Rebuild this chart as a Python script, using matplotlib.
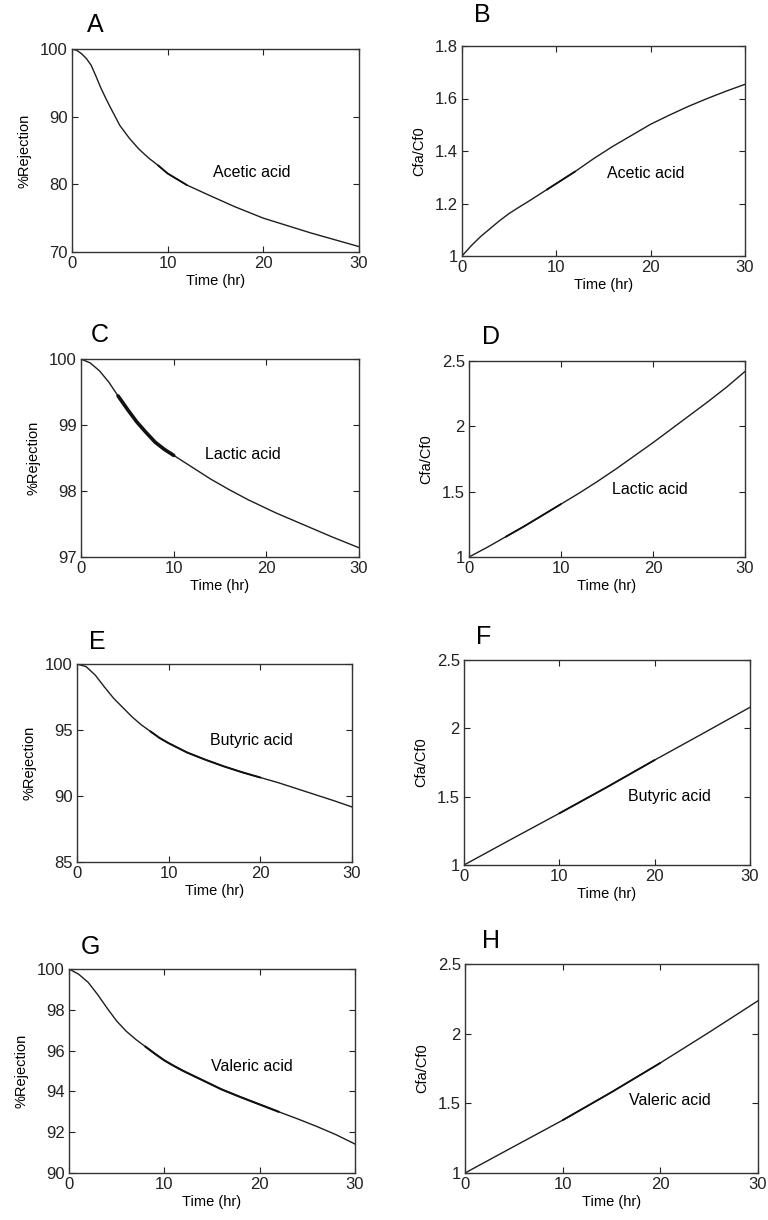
import matplotlib.pyplot as plt

plt.rcParams['font.family'] = ['Liberation Sans', 'DejaVu Sans']

W, H = 768, 1220

# time axis samples (hr) and values
t_a = [0, 0.5, 1, 1.5, 2, 2.5, 3, 3.5, 4, 5, 6, 7, 8, 9, 10, 12, 14, 17, 20, 22.5, 25, 27.5, 30]
rej_acetic = [100, 99.8, 99.3, 98.6, 97.6, 96.0, 94.3, 92.8, 91.4, 88.7, 86.8, 85.2, 83.9, 82.8,
              81.6, 79.9, 78.6, 76.7, 75.0, 73.9, 72.8, 71.8, 70.8]

t_b = [0, 1, 2, 3, 4, 5, 6, 7, 8, 9, 10, 12, 14, 16, 18, 20, 22, 24, 26, 28, 30]
cf_acetic = [1.0, 1.04, 1.075, 1.105, 1.135, 1.162, 1.185, 1.207, 1.23, 1.253, 1.276, 1.322,
             1.372, 1.418, 1.46, 1.502, 1.537, 1.57, 1.6, 1.628, 1.654]

t_c = [0, 1, 2, 3, 4, 5, 6, 7, 8, 9, 10, 11, 12, 14, 16, 18, 21, 24, 27, 30]
rej_lactic = [100, 99.94, 99.82, 99.65, 99.44, 99.24, 99.05, 98.89, 98.74, 98.63, 98.54, 98.45,
              98.36, 98.18, 98.02, 97.87, 97.67, 97.49, 97.31, 97.14]

t_d = [0, 2, 4, 6, 8, 10, 12, 14, 16, 18, 20, 22, 24, 26, 28, 30]
cf_lactic = [1.0, 1.075, 1.155, 1.235, 1.32, 1.405, 1.49, 1.58, 1.675, 1.775, 1.875,
             1.98, 2.085, 2.19, 2.30, 2.42]

t_e = [0, 1, 2, 3, 4, 5, 6, 7, 8, 9, 10, 11, 12, 14, 16, 18, 20, 22, 24, 26, 28, 30]
rej_butyric = [100, 99.8, 99.15, 98.25, 97.4, 96.7, 96.0, 95.4, 94.9, 94.4, 94.0, 93.65, 93.3,
               92.75, 92.25, 91.8, 91.4, 91.0, 90.55, 90.1, 89.65, 89.17]

t_f = [0, 5, 10, 15, 20, 25, 30]
cf_butyric = [1.0, 1.19, 1.378, 1.57, 1.768, 1.96, 2.154]

t_g = [0, 1, 2, 3, 4, 5, 6, 7, 8, 9, 10, 11, 12, 14, 16, 18, 20, 22, 24, 26, 28, 30]
rej_valeric = [100, 99.75, 99.35, 98.75, 98.08, 97.45, 96.95, 96.55, 96.2, 95.85, 95.52, 95.25,
               95.0, 94.55, 94.1, 93.72, 93.36, 93.0, 92.65, 92.28, 91.88, 91.42]

t_h = [0, 5, 10, 15, 20, 25, 30]
cf_valeric = [1.0, 1.19, 1.379, 1.58, 1.79, 2.01, 2.236]

# letter, x, y, ylabel, ylim, yticks, acid name, text pos (data),
# axes box in px (left, right, top, bottom), letter pos in px, darker stretch (t0, t1, lw)
panels = [
    ('A', t_a, rej_acetic, '%Rejection', (70, 100), [70, 80, 90, 100], 'Acetic acid', (14.7, 81.8),
     (72, 359, 49, 252), (95, 25), (9, 12, 1.3)),
    ('B', t_b, cf_acetic, 'Cfa/Cf0', (1, 1.8), [1, 1.2, 1.4, 1.6, 1.8], 'Acetic acid', (15.4, 1.316),
     (462, 745, 46, 256), (482, 15), (9, 12, 1.3)),
    ('C', t_c, rej_lactic, '%Rejection', (97, 100), [97, 98, 99, 100], 'Lactic acid', (13.4, 98.56),
     (81, 359, 359, 557), (100, 335), (4, 10, 2.6)),
    ('D', t_d, cf_lactic, 'Cfa/Cf0', (1, 2.5), [1, 1.5, 2, 2.5], 'Lactic acid', (15.5, 1.52),
     (469, 745, 361, 557), (491, 337), (4, 10, 1.3)),
    ('E', t_e, rej_butyric, '%Rejection', (85, 100), [85, 90, 95, 100], 'Butyric acid', (14.5, 94.2),
     (77, 352, 664, 862), (97, 642), (8, 20, 1.4)),
    ('F', t_f, cf_butyric, 'Cfa/Cf0', (1, 2.5), [1, 1.5, 2, 2.5], 'Butyric acid', (17.2, 1.50),
     (464, 750, 660, 865), (484, 637), (10, 20, 1.3)),
    ('G', t_g, rej_valeric, '%Rejection', (90, 100), [90, 92, 94, 96, 98, 100], 'Valeric acid', (14.9, 95.2),
     (69, 355, 969, 1173), (90, 947), (8, 22, 1.5)),
    ('H', t_h, cf_valeric, 'Cfa/Cf0', (1, 2.5), [1, 1.5, 2, 2.5], 'Valeric acid', (16.8, 1.52),
     (465, 758, 964, 1173), (491, 941), (10, 20, 1.3)),
]

fig = plt.figure(figsize=(W / 100, H / 100), dpi=100)

for letter, x, y, ylab, ylim, yticks, acid, tpos, box, lpos, heavy in panels:
    l, r, t, b = box
    ax = fig.add_axes([l / W, 1 - b / H, (r - l) / W, (b - t) / H])
    ax.plot(x, y, color='#1e1e1e', lw=1.0)
    # darker stretch of the same curve (as in the scanned original)
    xs = [xi for xi in x if heavy[0] <= xi <= heavy[1]]
    ys = [yi for xi, yi in zip(x, y) if heavy[0] <= xi <= heavy[1]]
    if len(xs) > 1:
        ax.plot(xs, ys, color='#111111', lw=heavy[2], solid_capstyle='round')
    ax.set_xlim(0, 30)
    ax.set_ylim(*ylim)
    ax.set_xticks([0, 10, 20, 30])
    ax.set_yticks(yticks)
    ax.set_yticklabels(['%g' % v for v in yticks])
    ax.tick_params(direction='in', top=True, right=True, length=4, width=0.8,
                   labelsize=12, pad=3, colors='#222222')
    for s in ax.spines.values():
        s.set_linewidth(1.0)
        s.set_color('#333333')
    ax.set_xlabel('Time (hr)', fontsize=10.5, labelpad=2)
    ax.set_ylabel(ylab, fontsize=10.5, labelpad=6)
    ax.text(tpos[0], tpos[1], acid, fontsize=11.5, va='center', ha='left')
    fig.text(lpos[0] / W, 1 - lpos[1] / H, letter, fontsize=18, ha='center', va='center')

fig.savefig('out.png', dpi=100)
